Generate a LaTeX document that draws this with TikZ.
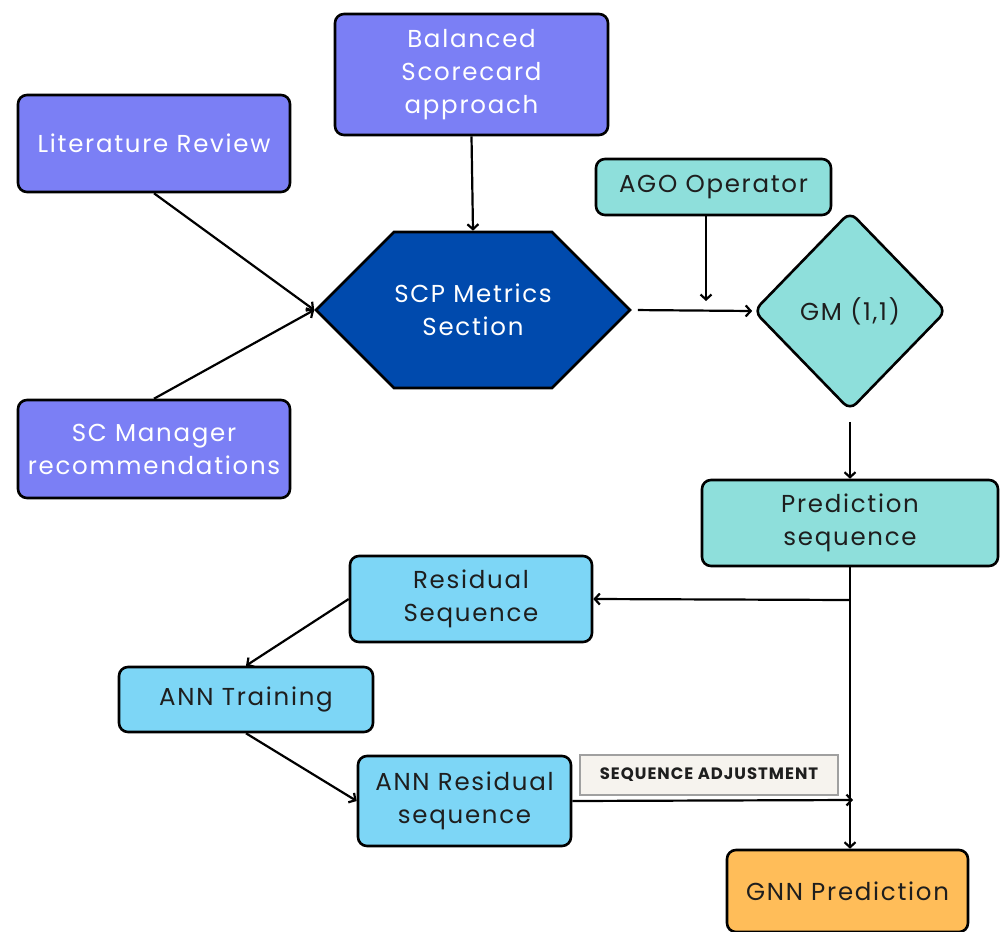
\documentclass[tikz,border=0pt]{standalone}
\usepackage{fontspec}
\setmainfont{Poppins}[LetterSpace=7]
\newfontfamily\labfont{Poppins}[LetterSpace=6]
\usetikzlibrary{shapes.geometric,shapes.symbols,arrows.meta}
\definecolor{cpurple}{RGB}{123,127,245}
\definecolor{cdark}{RGB}{0,74,173}
\definecolor{cteal}{RGB}{142,223,219}
\definecolor{clblue}{RGB}{125,214,246}
\definecolor{corange}{RGB}{255,189,89}
\definecolor{clabel}{RGB}{246,243,238}
\definecolor{cgray}{RGB}{160,160,160}
\definecolor{ctext}{RGB}{30,30,30}
\begin{document}
\begin{tikzpicture}[x=1pt,y=-1pt,
  base/.style={draw=black,line width=2.6pt,align=center,inner sep=0pt,font=\fontsize{24.5}{33}\selectfont},
  box/.style={base,rounded corners=9pt},
  pbox/.style={box,fill=cpurple,text=white},
  tbox/.style={box,fill=cteal,text=ctext},
  lbox/.style={box,fill=clblue,text=ctext},
  obox/.style={box,fill=corange,text=ctext},
  conn/.style={line width=2.2pt,-{Straight Barb[length=5pt,width=11pt]}},
  lab/.style={draw=cgray,line width=1.2pt,fill=clabel,text=ctext,inner sep=0pt,font=\labfont\fontsize{16.5}{18}\selectfont\bfseries}]
\useasboundingbox (0,0) rectangle (1002,932);

\node[pbox,minimum width=272,minimum height=97] (lit) at (154,143.5) {Literature Review};
\node[pbox,minimum width=273,minimum height=121] (bsc) at (471.5,74.5) {Balanced\\Scorecard\\approach};
\node[pbox,minimum width=272,minimum height=98] (scm) at (154,449) {SC Manager\\recommendations};
\node[base,shape=signal,signal to=west and east,signal pointer angle=90,fill=cdark,text=white,minimum width=314,minimum height=156] (scp) at (473,310) {SCP Metrics\\Section};

\node[tbox,minimum width=235,minimum height=56] (ago) at (713.5,187) {AGO Operator};
\node[base,shape=diamond,rounded corners=9pt,fill=cteal,text=ctext,minimum width=193,minimum height=199] (gm) at (850,311) {GM (1,1)};
\node[tbox,minimum width=296,minimum height=86] (pred) at (850,523) {Prediction\\sequence};

\node[lbox,minimum width=242,minimum height=86] (res) at (471,599) {Residual\\Sequence};
\node[lbox,minimum width=254,minimum height=65] (annt) at (246,699.5) {ANN Training};
\node[lbox,minimum width=213,minimum height=90] (annr) at (464.5,801) {ANN Residual\\sequence};
\node[lab,minimum width=258,minimum height=40] (seq) at (709,775) {SEQUENCE ADJUSTMENT};
\node[obox,minimum width=241,minimum height=82] (gnn) at (847.5,891) {GNN Prediction};

\coordinate (agoj) at (706,301);
\coordinate (j1) at (850,600);
\coordinate (j2) at (853,800);

\draw[conn] (lit.south) -- (scp.west);
\draw[conn] (scm.north) -- (scp.west);
\draw[conn] (bsc.south) -- (scp.north);
\draw[conn,shorten <=6pt] (scp.east) -- (gm.west);
\draw[conn] (ago.south -| agoj) -- (agoj);
\draw[conn,shorten <=10pt] (gm.south) -- (pred.north);
\draw[conn] (pred.south) -- (pred.south |- gnn.north);
\draw[conn] (j1) -- (res.east);
\draw[conn] (res.west) -- (annt.north);
\draw[conn] (annt.south) -- (annr.west);
\draw[conn] (annr.east) -- (j2);
\end{tikzpicture}
\end{document}
